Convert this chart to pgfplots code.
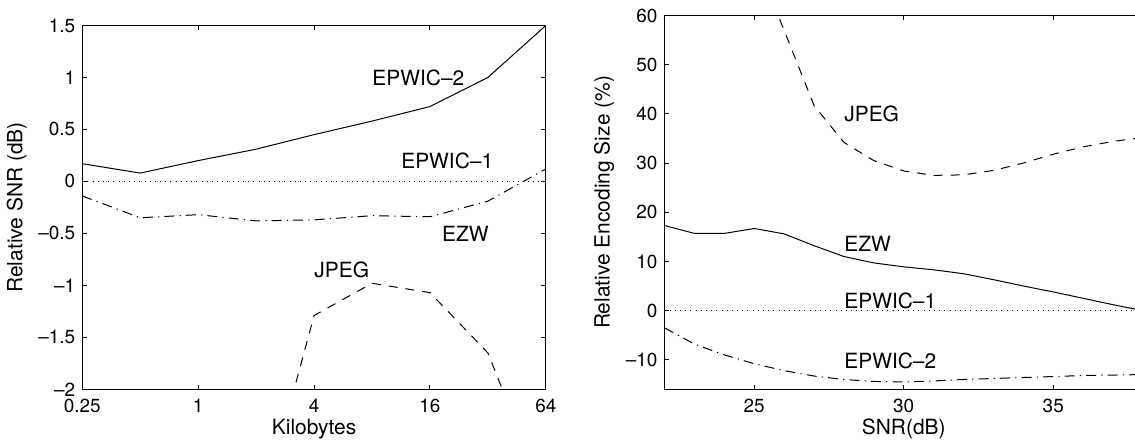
\documentclass[border=0pt]{standalone}
\usepackage{fontspec}
\setmainfont{TeX Gyre Heros}
\usepackage{pgfplots}
\pgfplotsset{compat=1.18}
\usetikzlibrary{calc}

\pgfplotsset{
  matlab/.style={
    scale only axis,
    axis line style={line width=0.6pt},
    tick style={line width=0.5pt, black},
    major tick length=2.2pt,
    tick align=inside,
    xminorticks=false, yminorticks=false,
    tick label style={font=\fontsize{9.5}{10}\selectfont},
    xticklabel style={yshift=-1.2pt},
    label style={font=\fontsize{10.5}{12}\selectfont},
    xlabel style={yshift=3.5pt},
    ylabel style={yshift=-1pt},
    every axis plot/.append style={black, line width=0.5pt},
  },
}
\tikzset{
  ln solid/.style={solid},
  ln dashed/.style={dash pattern=on 4.5pt off 4pt},
  ln dashdot/.style={dash pattern=on 5pt off 2.6pt on 0.6pt off 2.6pt},
  ln dotted/.style={line width=0.45pt, dash pattern=on 0.4pt off 2.2pt},
  lbl/.style={anchor=west, inner sep=0pt, font=\fontsize{10.5}{12}\selectfont},
}

\begin{document}
\begin{tikzpicture}
% left: relative SNR vs. kilobytes
\begin{axis}[matlab, name=left, at={(0,0)}, anchor=south west,
    width=232.5pt, height=182.5pt,
    xmode=log, log basis x=2, xmin=0.25, xmax=64, ymin=-2, ymax=1.5,
    xtick={0.25,1,4,16,64}, xticklabels={0.25,1,4,16,64},
    ytick={-2,-1.5,-1,-0.5,0,0.5,1,1.5},
    yticklabels={–2,–1.5,–1,–0.5,0,0.5,1,1.5},
    xlabel={Kilobytes}, ylabel={Relative SNR (dB)}]
\addplot[ln solid] coordinates {
  (0.25,0.17) (0.5,0.08) (1,0.2) (2,0.31) (4,0.45) (8,0.58) (16,0.72) (32,1.0) (64,1.5)};
\addplot[ln dotted] coordinates {(0.25,0) (64,0)};
\addplot[ln dashdot] coordinates {
  (0.25,-0.14) (0.5,-0.35) (1,-0.32) (2,-0.38) (4,-0.37) (8,-0.33) (16,-0.34) (32,-0.19) (64,0.12)};
\addplot[ln dashed] coordinates {
  (2,-3.35) (4,-1.29) (8,-0.98) (16,-1.07) (32,-1.65) (64,-3.06)};
\node[lbl] at (axis cs:8,1.0) {EPWIC–2};
\node[lbl] at (axis cs:11.3,0.2) {EPWIC–1};
\node[lbl] at (axis cs:18.4,-0.5) {EZW};
\node[lbl] at (axis cs:4,-0.85) {JPEG};
\end{axis}

% right: relative encoding size vs. SNR
\begin{axis}[matlab, name=right, at={(292pt,0)}, anchor=south west,
    width=240pt, height=187.5pt,
    xmin=22, xmax=38, ymin=-16, ymax=60,
    xtick={25,30,35}, xticklabels={25,30,35},
    ytick={-10,0,10,20,30,40,50,60},
    yticklabels={–10,0,10,20,30,40,50,60},
    xlabel={SNR(dB)}, ylabel={Relative Encoding Size (\%)}]
\addplot[ln dashed] coordinates {
  (25,72) (26,57) (27,41.7) (28,34.2) (29,30.5) (30,28.4) (31,27.5) (32,27.6)
  (33,28.5) (34,30) (35,31.8) (36,33.3) (37,34.4) (38,35.2)};
\addplot[ln solid] coordinates {
  (22,17.3) (23,15.7) (24,15.7) (25,16.7) (26,15.6) (27,13.2) (28,11) (29,9.7)
  (30,8.9) (31,8.3) (32,7.5) (33,6.3) (34,5) (35,3.8) (36,2.5) (37,1.2) (38,0)};
\addplot[ln dotted] coordinates {(22,0) (38,0)};
\addplot[ln dashdot] coordinates {
  (22,-3.5) (23,-6.8) (24,-9) (25,-10.8) (26,-12.2) (27,-13.3) (28,-14) (29,-14.4)
  (30,-14.5) (31,-14.3) (32,-14) (33,-13.8) (34,-13.6) (35,-13.4) (36,-13.2) (37,-13.1) (38,-13)};
\node[lbl] at (axis cs:28,40) {JPEG};
\node[lbl] at (axis cs:28,13.6) {EZW};
\node[lbl] at (axis cs:28,2) {EPWIC–1};
\node[lbl] at (axis cs:28,-10.2) {EPWIC–2};
\end{axis}

\pgfresetboundingbox
\path (left.outer south west) rectangle ($(right.south east |- right.outer north east)+(-4pt,1pt)$);
\end{tikzpicture}
\end{document}
